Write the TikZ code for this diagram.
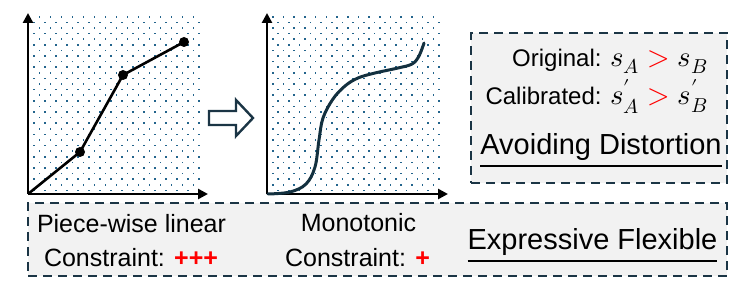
\documentclass[tikz,border=0pt]{standalone}
\usepackage{fontspec}
\usepackage{unicode-math}
\setmainfont{Liberation Sans}
\setmathfont{Latin Modern Math}[Scale=1.2]
\usetikzlibrary{arrows.meta}
\definecolor{navy}{RGB}{27,53,69}
\definecolor{curvecol}{RGB}{19,48,63}
\definecolor{dotcol}{RGB}{35,100,140}
\definecolor{boxfill}{RGB}{242,242,242}
\newcommand{\fsz}[1]{\fontsize{#1}{#1}\selectfont}
\newcommand{\redgt}{\mathrel{\textcolor{red}{>}}}
\begin{document}
\begin{tikzpicture}[x=1pt,y=-1pt,
  axis/.style={line width=2.6pt, -{Triangle[length=10pt,width=10pt]}},
  dbox/.style={draw=navy, fill=boxfill, line width=2.4pt, dash pattern=on 9pt off 6pt},
  knot/.style={circle, fill=black, inner sep=0pt, minimum size=10pt},
  curveline/.style={line width=2.6pt, line join=round},
  lbl/.style={font=\fsz{25}, inner sep=0pt, anchor=base},
  rlbl/.style={font=\fsz{24}, inner sep=0pt, anchor=base east},
  ulbl/.style={font=\fsz{29}, inner sep=0pt, anchor=base},
  dotpt/.style={fill=dotcol}]
\useasboundingbox (0,0) rectangle (750,296);

% boxes
\node[dbox, minimum width=256pt, minimum height=150pt, anchor=north west, inner sep=0pt] (rbox) at (470,32) {};
\node[dbox, minimum width=699pt, minimum height=73pt, anchor=north west, inner sep=0pt] (bbox) at (27,202) {};

% dots left
\begin{scope}
\clip (31,15) rectangle (200,193);
\foreach \r in {0,...,31}{
  \foreach \c in {0,...,15}{
    \fill[dotpt] ({33+5.5*mod(\r+1,2)+11*\c},{16+5.6*\r}) rectangle +(1.6,1.6);
  }
}
\end{scope}
% dots right
\begin{scope}
\clip (269,15) rectangle (442,192);
\foreach \r in {0,...,31}{
  \foreach \c in {0,...,16}{
    \fill[dotpt] ({272+5.4*mod(\r,2)+10.7*\c},{16+5.6*\r}) rectangle +(1.6,1.6);
  }
}
\end{scope}

% left plot
\coordinate (o1) at (28,194);
\coordinate (y1) at (28,13);
\coordinate (x1) at (208,194);
\draw[axis] (o1) -- (y1);
\draw[axis] (o1) -- (x1);
\node[knot] (k1) at (80,152) {};
\node[knot] (k2) at (123,75) {};
\node[knot] (k3) at (184,42) {};
\draw[curveline] (o1) -- (k1.center) -- (k2.center) -- (k3.center);

% hollow arrow
\draw[navy, line width=2.4pt, fill=white, line join=miter]
  (209,111) -- (236,111) -- (236,100) -- (253,118) -- (236,136) -- (236,125) -- (209,125) -- cycle;

% right plot
\coordinate (o2) at (267,194);
\coordinate (y2) at (267,13);
\coordinate (x2) at (448,194);
\draw[axis] (o2) -- (y2);
\draw[axis] (o2) -- (x2);
\draw[curvecol, line width=3pt, line cap=round] plot[smooth, tension=0.6] coordinates {
  (268,194) (290,192) (306,184) (315,167) (319,140) (323,118) (333,99) (345,86) (358,78) (375,73) (398,68) (412,64) (419,56) (424,43)};

% right box texts
\node[rlbl] (orig) at (708,66.5) {Original: $s_A \redgt s_B$};
\node[rlbl] (cal) at (708,105) {Calibrated: $s'_A \redgt s'_B$};
\node[ulbl] (avoid) at (601,155) {\underline{Avoiding Distortion}};

% bottom texts
\node[lbl] (pw) at (131.5,232.5) {Piece-wise linear};
\node[lbl] (c1) at (131,266.7) {Constraint: \textcolor{red}{\textbf{+++}}};
\node[lbl] (mono) at (358.5,231.7) {Monotonic};
\node[lbl] (c2) at (357.5,267) {Constraint: \textcolor{red}{\textbf{+}}};
\node[ulbl] (expr) at (592.5,250) {\underline{Expressive Flexible}};
\end{tikzpicture}
\end{document}
